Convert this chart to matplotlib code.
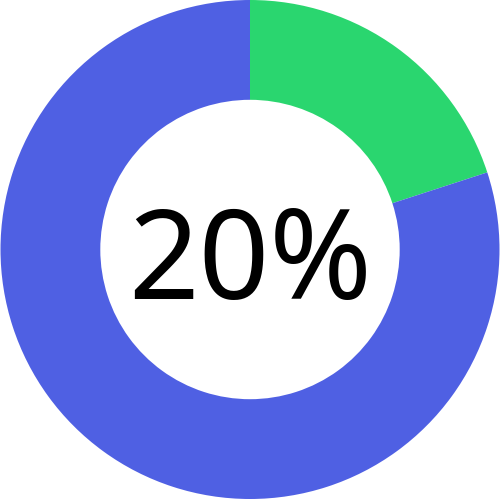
import matplotlib.pyplot as plt

# Share shown in the donut
labels = ['Done', 'Remaining']
values = [20, 80]
colors = ['#2ad66f', '#4f60e3']
center_label = '20%'

fig = plt.figure(figsize=(5.0, 4.99), dpi=100)
ax = fig.add_axes([0, 0, 1, 1])

ax.pie(values, colors=colors, startangle=90, counterclock=False,
       radius=1.0, wedgeprops=dict(width=0.4, edgecolor='none'))
ax.text(0, -0.07, center_label, ha='center', va='center',
        fontsize=89, family=['Noto Sans', 'DejaVu Sans'], color='black')

ax.set_xlim(-1.0, 1.0)
ax.set_ylim(-1.0, 1.0)
ax.set_aspect('equal')
ax.axis('off')

fig.savefig('out.png', dpi=100, facecolor='white')
